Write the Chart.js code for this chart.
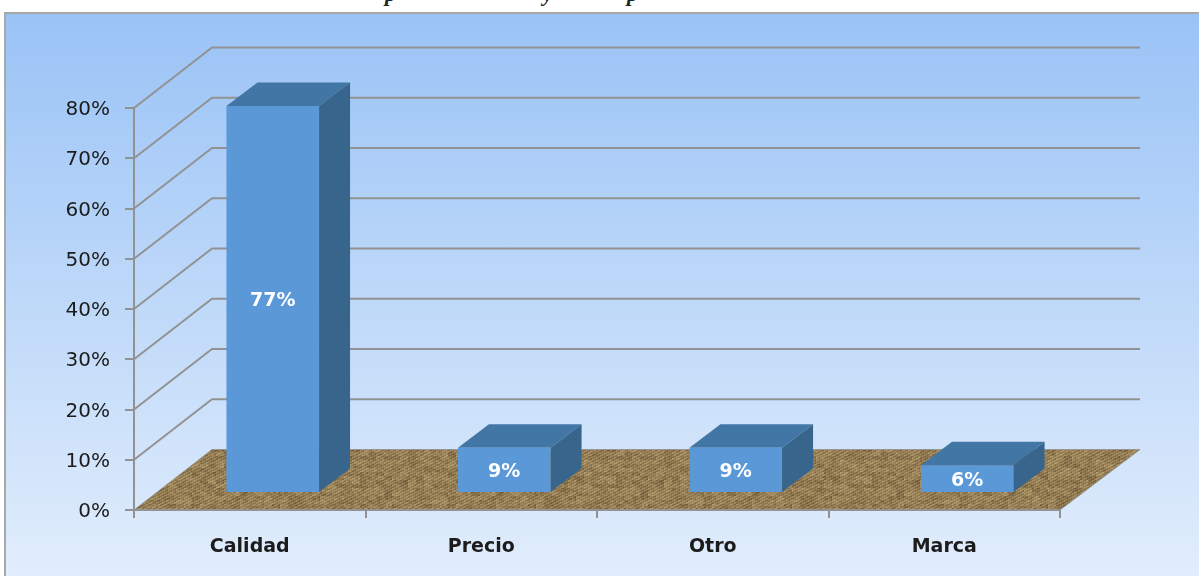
<!DOCTYPE html>
<html lang="es">
<head>
  <meta charset="UTF-8" />
  <title>Calidad, Precio, Otro, Marca</title>
  <script src="https://cdn.jsdelivr.net/npm/chart.js"></script>
  <style>
    html, body { margin: 0; padding: 0; background: #fff; overflow: hidden; }
    #panel {
      position: absolute; left: 4px; top: 12px; width: 1200px; height: 570px;
      border: 2px solid #a8a8a8;
      background: linear-gradient(180deg, #9ac3f6 0%, #e2eefc 100%);
    }
    #chart { position: absolute; left: 0; top: 0; filter: blur(0.65px); }
    .cut {
      position: absolute; font: italic bold 22px "Liberation Serif", serif; color: #222;
      top: -18px; line-height: 24px;
    }
  </style>
</head>
<body>
  <span class="cut" style="left:385px">p</span>
  <span class="cut" style="left:543px">y</span>
  <span class="cut" style="left:627px">p</span>
  <div id="panel"></div>
  <canvas id="chart" width="1199" height="576"></canvas>

  <script>
    const categories = ['Calidad', 'Precio', 'Otro', 'Marca'];
    const values = [77, 9, 9, 5.5];
    const yMax = 80;
    const yStep = 10;

    // fake 3D offsets, in pixels
    const barShift = { x: 23, y: -17 };
    const barDepth = { x: 31, y: -23.5 };
    const wallDepth = { left: 78, right: 80, y: -60.5 };

    const lineGray = '#929292';

    function mix(a, b) {
      let h = (a * 374761393 + b * 668265263) | 0;
      h = Math.imul(h ^ (h >>> 13), 1274126177);
      return ((h ^ (h >>> 16)) >>> 0) % 256;
    }

    // burlap looking tile for the floor
    function floorPattern(ctx) {
      const size = 256;
      const tile = document.createElement('canvas');
      tile.width = tile.height = size;
      const t = tile.getContext('2d');
      const img = t.createImageData(size, size);
      for (let y = 0; y < size; y++) {
        for (let x = 0; x < size; x++) {
          const hatch = (x + y * 2) % 6 < 3 ? 11 : -11;
          const fine = mix(x >> 1, y >> 1) / 255 * 26 - 13;
          const blotch = mix(x >> 3, y >> 2) / 255 * 26 - 15;
          const v = hatch + fine + blotch;
          const i = (y * size + x) * 4;
          img.data[i] = 150 + v;
          img.data[i + 1] = 126 + v;
          img.data[i + 2] = 86 + v * 0.8;
          img.data[i + 3] = 255;
        }
      }
      t.putImageData(img, 0, 0);
      return ctx.createPattern(tile, 'repeat');
    }

    const depthPlugin = {
      id: 'depth',
      beforeDraw(chart) {
        const { ctx, chartArea: area, scales: { y } } = chart;
        ctx.save();
        ctx.strokeStyle = lineGray;
        ctx.lineWidth = 2;
        for (let v = yStep; v <= yMax; v += yStep) {
          const py = y.getPixelForValue(v);
          ctx.beginPath();
          ctx.moveTo(area.left, py);
          ctx.lineTo(area.left + wallDepth.left, py + wallDepth.y);
          ctx.lineTo(area.right + wallDepth.right, py + wallDepth.y);
          ctx.stroke();
        }
        const base = y.getPixelForValue(0);
        ctx.beginPath();
        ctx.moveTo(area.left, base);
        ctx.lineTo(area.left + wallDepth.left, base + wallDepth.y);
        ctx.lineTo(area.right + wallDepth.right, base + wallDepth.y);
        ctx.lineTo(area.right, base);
        ctx.closePath();
        ctx.fillStyle = floorPattern(ctx);
        ctx.fill();
        ctx.strokeStyle = 'rgba(130,130,130,0.6)';
        ctx.lineWidth = 1;
        ctx.stroke();
        ctx.restore();
      },
      beforeDatasetDraw(chart, args) {
        const { ctx } = chart;
        ctx.save();
        ctx.translate(barShift.x, barShift.y);
        args.meta.data.forEach(bar => {
          const l = bar.x - bar.width / 2;
          const r = bar.x + bar.width / 2;
          // top face
          ctx.fillStyle = '#4276a4';
          ctx.beginPath();
          ctx.moveTo(l, bar.y);
          ctx.lineTo(l + barDepth.x, bar.y + barDepth.y);
          ctx.lineTo(r + barDepth.x, bar.y + barDepth.y);
          ctx.lineTo(r, bar.y);
          ctx.closePath();
          ctx.fill();
          // side face
          ctx.fillStyle = '#38658b';
          ctx.beginPath();
          ctx.moveTo(r, bar.y);
          ctx.lineTo(r + barDepth.x, bar.y + barDepth.y);
          ctx.lineTo(r + barDepth.x, bar.base + barDepth.y);
          ctx.lineTo(r, bar.base);
          ctx.closePath();
          ctx.fill();
        });
      },
      afterDatasetDraw(chart) {
        chart.ctx.restore();
      },
      afterDatasetsDraw(chart) {
        const { ctx } = chart;
        const meta = chart.getDatasetMeta(0);
        ctx.save();
        ctx.fillStyle = '#fff';
        ctx.font = 'bold 19px "DejaVu Sans"';
        ctx.textAlign = 'center';
        ctx.textBaseline = 'middle';
        meta.data.forEach((bar, i) => {
          const label = Math.round(values[i]) + '%';
          ctx.fillText(label, bar.x + barShift.x, (bar.y + bar.base) / 2 + barShift.y + 2);
        });
        ctx.restore();
      }
    };

    new Chart(document.getElementById('chart'), {
      type: 'bar',
      data: {
        labels: categories,
        datasets: [{
          data: values,
          backgroundColor: '#5a98d8',
          borderWidth: 0,
          barPercentage: 0.4,
          categoryPercentage: 1,
          clip: false
        }]
      },
      options: {
        responsive: false,
        animation: false,
        events: [],
        layout: { padding: { top: 108, right: 139 } },
        plugins: { legend: { display: false }, tooltip: { enabled: false }, title: { display: false } },
        scales: {
          x: {
            afterFit: s => { s.height = 66; },
            grid: { color: lineGray, lineWidth: 2, tickLength: 8, drawOnChartArea: false },
            border: { color: lineGray, width: 2 },
            ticks: { color: '#1c1c1c', font: { family: 'DejaVu Sans', size: 19, weight: 'bold' }, padding: 18, maxRotation: 0 }
          },
          y: {
            min: 0,
            max: yMax,
            afterFit: s => { s.width = 134; },
            grid: { color: lineGray, lineWidth: 2, tickLength: 9, drawOnChartArea: false },
            border: { color: lineGray, width: 2 },
            ticks: {
              stepSize: yStep,
              color: '#1c1c1c',
              font: { family: 'DejaVu Sans', size: 20 },
              padding: 15,
              labelOffset: 2,
              callback: v => v + '%'
            }
          }
        }
      },
      plugins: [depthPlugin]
    });
  </script>
</body>
</html>
